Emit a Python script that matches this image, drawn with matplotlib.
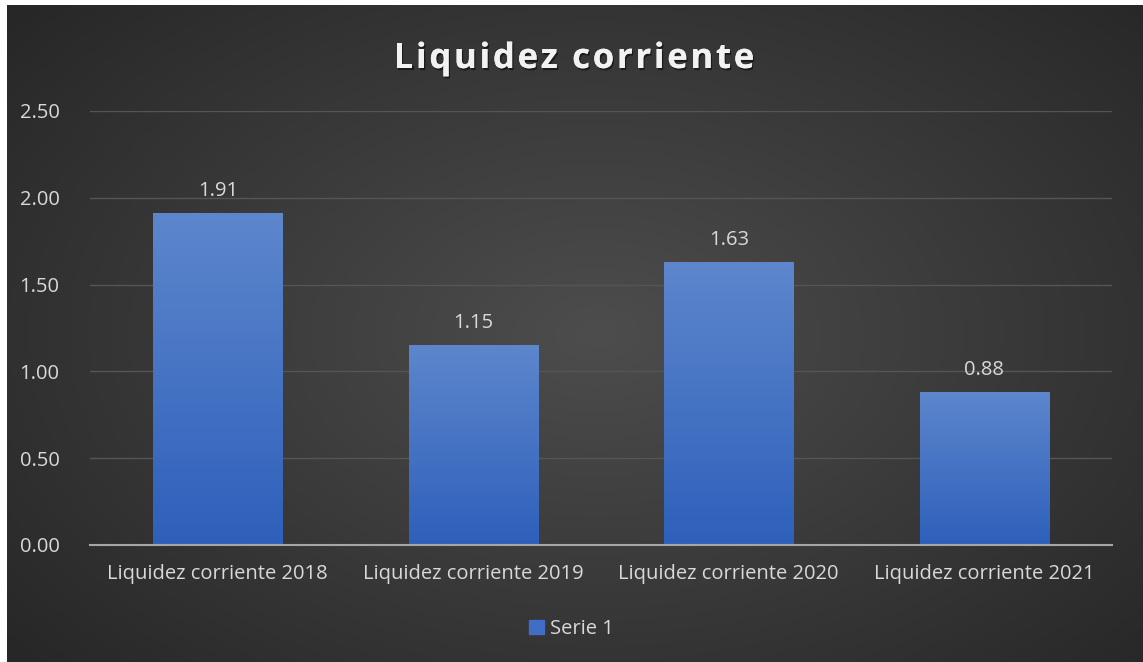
import numpy as np
import matplotlib.pyplot as plt
from matplotlib.colors import LinearSegmentedColormap
from matplotlib.patches import Rectangle
from matplotlib.font_manager import FontProperties, findfont
from matplotlib.ft2font import FT2Font
import matplotlib.patheffects as pe

categorias = ["Liquidez corriente 2018", "Liquidez corriente 2019",
              "Liquidez corriente 2020", "Liquidez corriente 2021"]
valores = [1.91, 1.15, 1.63, 0.88]
ticks_y = [0.0, 0.5, 1.0, 1.5, 2.0, 2.5]
serie = "Serie 1"
titulo = "Liquidez corriente"

plt.rcParams['font.family'] = ['Open Sans', 'DejaVu Sans']

W, H = 1143, 662
DPI = 100
fig = plt.figure(figsize=(W / DPI, H / DPI), dpi=DPI)
fig.patch.set_facecolor('white')

# fondo oscuro con degradado radial
bg = fig.add_axes([7 / W, 0, 1 - 7 / W, 1 - 5 / H])
bg.set_axis_off()
yy, xx = np.mgrid[0:1:300j, 0:1:500j]
d = np.sqrt((xx - 0.52) ** 2 + ((yy - 0.5) * 0.9) ** 2)
d = np.clip(d / 0.7, 0, 1)
cmap_bg = LinearSegmentedColormap.from_list('bg', ['#4d4d4d', '#262626'])
bg.imshow(d, cmap=cmap_bg, aspect='auto', extent=[0, 1, 0, 1], vmin=0, vmax=1)

ax = fig.add_axes([90 / W, 1 - 545 / H, 1022 / W, (545 - 111) / H])
ax.set_facecolor('none')
x = np.arange(len(categorias))
barras = ax.bar(x, valores, width=0.505, color='none', zorder=3)

cmap_bar = LinearSegmentedColormap.from_list('bar', ['#2e60bb', '#5d86cc'])
grad = np.linspace(0, 1, 256).reshape(-1, 1)
for b in barras:
    x0, w, h = b.get_x(), b.get_width(), b.get_height()
    im = ax.imshow(grad, cmap=cmap_bar, origin='lower', aspect='auto',
                   extent=[x0, x0 + w, 0, h], zorder=3)
    clip = Rectangle((x0, 0), w, h, transform=ax.transData)
    im.set_clip_path(clip)
    ax.text(x0 + w / 2, h + 0.07, f"{h:.2f}", ha='center', va='bottom',
            color='#d9d9d9', fontsize=14.5)

ax.set_xlim(-0.5, len(categorias) - 0.5)
ax.set_ylim(0, 2.5)
ax.set_yticks(ticks_y)
ax.set_yticklabels([f"{t:.2f}" for t in ticks_y])
ax.set_xticks(x)
ax.set_xticklabels(categorias)
ax.tick_params(axis='both', length=0, colors='#d9d9d9', labelsize=14.5)
ax.tick_params(axis='y', pad=22)
ax.tick_params(axis='x', pad=14)
for s in ['top', 'right', 'left']:
    ax.spines[s].set_visible(False)
ax.spines['bottom'].set_color('#a6a6a6')
ax.spines['bottom'].set_linewidth(1.5)
ax.spines['bottom'].set_zorder(4)
ax.grid(axis='y', color='#555555', linewidth=1, zorder=0)
ax.set_axisbelow(True)

# titulo con espaciado entre letras (avances reales del glifo)
fs_t = 25
prop = FontProperties(family='Open Sans', weight='bold', size=fs_t)
fuente = FT2Font(findfont(prop))
fuente.set_size(fs_t, DPI)
esp = 2.7  # px extra entre letras
avances = []
for c in titulo:
    g = fuente.load_char(ord(c))
    avances.append(g.linearHoriAdvance / 65536)
total_px = sum(avances) + esp * (len(titulo) - 1)
xp = 574 - total_px / 2
for c, a in zip(titulo, avances):
    fig.text(xp / W, 1 - 68 / H, c, ha='left', va='baseline', color='#f2f2f2',
             fontproperties=prop,
             path_effects=[pe.withSimplePatchShadow(offset=(1, -1.5),
                                                     shadow_rgbFace='black',
                                                     alpha=0.5),
                           pe.Normal()])
    xp += a + esp

handle = Rectangle((0, 0), 1, 1, color='#3f6ec4')
fig.legend([handle], [serie], loc='center', bbox_to_anchor=(0.5, 1 - 629 / H),
           frameon=False, labelcolor='#d9d9d9', fontsize=14.5,
           handlelength=0.75, handleheight=0.75, handletextpad=0.3)

fig.savefig('out.png', dpi=DPI, facecolor=fig.get_facecolor())
